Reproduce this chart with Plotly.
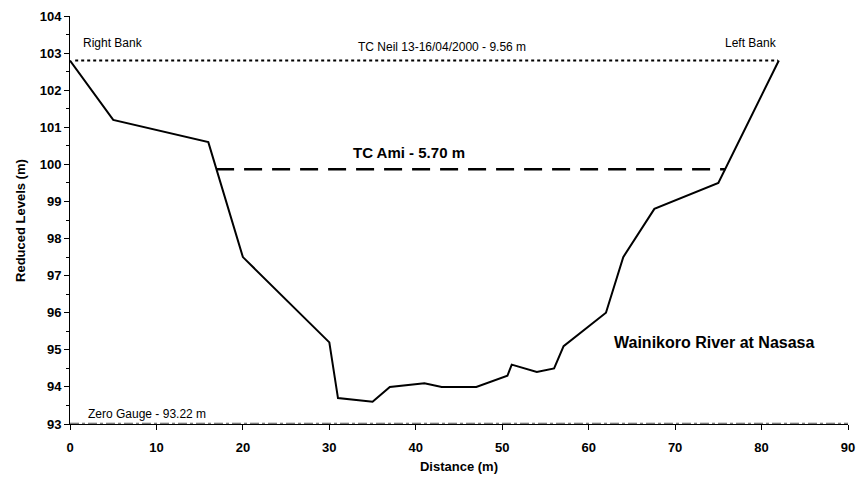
import plotly.graph_objects as go

# Cross-section profile
distance = [0, 5, 16, 20, 30, 31, 35, 37, 41, 43, 47, 50.6, 51.1, 54, 56, 57.1, 62, 64, 67.6, 75, 82]
level = [102.8, 101.2, 100.6, 97.5, 95.2, 93.7, 93.6, 94.0, 94.1, 94.0, 94.0, 94.3, 94.6, 94.4, 94.5, 95.1, 96.0, 97.5, 98.8, 99.5, 102.8]

# Flood levels
neil_x = [0.6, 81.9]
neil_y = [102.8, 102.8]
ami_x = [16.9, 75.8]
ami_y = [99.87, 99.87]
gauge_x = [0, 90]
gauge_y = [93.02, 93.02]

x_ticks = [0, 10, 20, 30, 40, 50, 60, 70, 80, 90]
y_ticks = [93, 94, 95, 96, 97, 98, 99, 100, 101, 102, 103, 104]

FONT = "Liberation Sans, Arial, sans-serif"

fig = go.Figure()
fig.add_trace(go.Scatter(x=gauge_x, y=gauge_y, mode="lines",
                         line=dict(color="#555555", width=1, dash="dashdot"), hoverinfo="skip"))
fig.add_trace(go.Scatter(x=neil_x, y=neil_y, mode="lines",
                         line=dict(color="black", width=2, dash="dot"), hoverinfo="skip"))
fig.add_trace(go.Scatter(x=ami_x, y=ami_y, mode="lines",
                         line=dict(color="black", width=2.5, dash="18px,10px"), hoverinfo="skip"))
fig.add_trace(go.Scatter(x=distance, y=level, mode="lines",
                         line=dict(color="black", width=2), hoverinfo="skip"))

annos = [
    dict(x=5.0, y=103.27, text="Right Bank", font=dict(size=12, family=FONT, color="black")),
    dict(x=78.8, y=103.27, text="Left Bank", font=dict(size=12, family=FONT, color="black")),
    dict(x=43.0, y=103.16, text="TC Neil 13-16/04/2000 - 9.56 m", font=dict(size=12, family=FONT, color="black")),
    dict(x=39.2, y=100.31, text="<b>TC Ami - 5.70 m</b>", font=dict(size=15, family=FONT, color="black")),
    dict(x=74.5, y=95.19, text="<b>Wainikoro River at Nasasa</b>", font=dict(size=16, family=FONT, color="black")),
    dict(x=8.9, y=93.27, text="Zero Gauge - 93.22 m", font=dict(size=12, family=FONT, color="black")),
]
for a in annos:
    fig.add_annotation(xref="x", yref="y", showarrow=False, xanchor="center", yanchor="middle", **a)

# y-axis title placed as rotated annotation
fig.add_annotation(xref="paper", yref="paper", x=-0.0643, y=0.5, showarrow=False,
                   text="<b>Reduced Levels (m)</b>", textangle=-90,
                   xanchor="center", yanchor="middle",
                   font=dict(size=13, family=FONT, color="black"))

fig.update_layout(
    width=858, height=481,
    margin=dict(l=70, r=10, t=16, b=57),
    plot_bgcolor="white", paper_bgcolor="white",
    showlegend=False,
    font=dict(family=FONT, color="black"),
)
fig.update_xaxes(
    range=[0, 90], tickvals=x_ticks, showgrid=False, zeroline=False, automargin=False,
    showline=True, linecolor="black", linewidth=1,
    ticks="outside", ticklen=5, tickcolor="black", ticklabelstandoff=6,
    tickfont=dict(size=13, family=FONT, color="black", weight="bold"),
    title=dict(text="<b>Distance (m)</b>", font=dict(size=13, family=FONT, color="black"), standoff=8),
)
fig.update_yaxes(
    range=[93, 104], tickvals=y_ticks, showgrid=False, zeroline=False, automargin=False,
    showline=True, linecolor="black", linewidth=1,
    ticks="outside", ticklen=5, tickcolor="black",
    minor=dict(dtick=0.5, ticks="outside", ticklen=3, tickcolor="black", showgrid=False),
    tickfont=dict(size=13, family=FONT, color="black", weight="bold"),
)

# remove the default page margin so the figure fills the window exactly
fig.write_html(
    "out.html",
    config={"displayModeBar": False},
    post_script="document.body.style.margin='0';document.documentElement.style.overflow='hidden';document.body.style.overflow='hidden';",
)
